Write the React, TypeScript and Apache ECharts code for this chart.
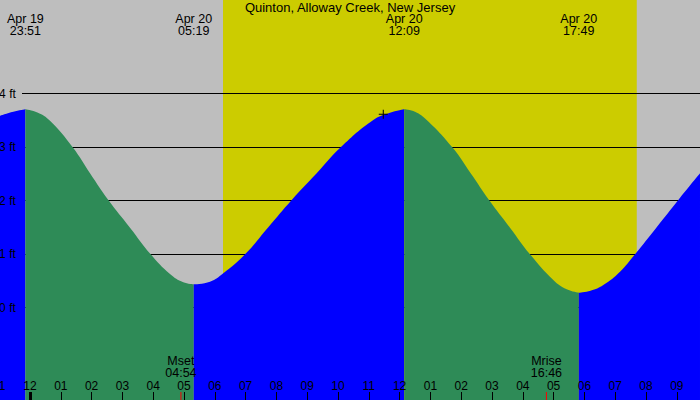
import React, { useEffect, useRef } from "react";
import * as echarts from "echarts";

// ---------- data ----------
const TITLE = "Quinton, Alloway Creek, New Jersey";

// tide extremes (high / low)
const extremeDates = ["Apr 19", "Apr 20", "Apr 20", "Apr 20"];
const extremeTimes = ["23:51", "05:19", "12:09", "17:49"];
const extremeLevels = [3.705, 0.434, 3.705, 0.277];

// tide curve: hours since Apr 20 00:00, level in ft
const tideHours = [
  -0.974, -0.542, -0.15, 0.24, 0.649, 1.386, 1.948, 2.542, 3.247, 3.919, 4.545, 4.977, 5.317,
  5.844, 6.276, 6.981, 7.737, 8.497, 9.308, 10.088, 11.146, 11.688, 12.15,
  12.5, 12.88, 13.711, 14.308, 14.903, 15.584, 16.234, 16.99, 17.425, 17.817,
  18.2, 18.614, 19.156, 19.643, 20.347, 21.049, 21.753,
];
const tideFeet = [
  3.585, 3.66, 3.705, 3.645, 3.49, 2.994, 2.508, 2.009, 1.492, 0.994, 0.626, 0.471, 0.434,
  0.482, 0.639, 0.994, 1.499, 2.009, 2.508, 2.994, 3.505, 3.641, 3.705,
  3.66, 3.505, 2.994, 2.508, 2.009, 1.492, 0.994, 0.514, 0.34, 0.277,
  0.314, 0.421, 0.669, 0.994, 1.499, 2.009, 2.508,
];

// moon events
const moonNames = ["Mset", "Mrise"];
const moonDates = ["Apr 20", "Apr 20"];
const moonTimes = ["04:54", "16:46"];

// daylight
const sunriseDate = "Apr 20";
const sunriseTime = "06:16";
const sunsetDate = "Apr 20";
const sunsetTime = "19:42";

// current position marker [hour, ft]
const nowMarker = [[11.47, 3.61]];

// ticks
const hourTicks = [-1, 0, 1, 2, 3, 4, 5, 6, 7, 8, 9, 10, 11, 12, 13, 14, 15, 16, 17, 18, 19, 20, 21, 22];
const dayStartTicks = [0];
const levelTicks = [0, 1, 2, 3, 4];

// ---------- style / layout ----------
const W = 700;
const H = 400;
const PX_PER_HOUR = 30.8;
const MIDNIGHT_PX = 30;
const X_MIN = -1.1;
const X_MAX = 22;
const ZERO_FT_PX = 307.5;
const PX_PER_FT = 53.5;
const Y_MAX = ZERO_FT_PX / PX_PER_FT;
const Y_MIN = -(H - ZERO_FT_PX) / PX_PER_FT;

const GRAY = "#BEBEBE";
const YELLOW = "#CCCC00";
const BLUE = "#0000FF";
const GREEN = "#2E8B57";
const FONT = "'Liberation Sans', Arial, Helvetica, sans-serif";

function toHour(date: string, time: string): number {
  const day = parseInt(date.split(" ")[1], 10) - 20;
  const [hh, mm] = time.split(":").map(Number);
  return day * 24 + hh + mm / 60;
}

function hourLabel(v: number): string {
  const hr = ((Math.round(v) % 12) + 12) % 12;
  return hr === 0 ? "12" : String(hr).padStart(2, "0");
}

export default function App() {
  const ref = useRef<HTMLDivElement>(null);

  useEffect(() => {
    if (!ref.current) return;
    const chart = echarts.init(ref.current, null, { renderer: "svg" });

    const extremeHours = extremeDates.map((d, i) => toHour(d, extremeTimes[i]));
    const moonHours = moonDates.map((d, i) => toHour(d, moonTimes[i]));
    const points = tideHours.map((h, i) => [h, tideFeet[i]]);
    const bounds = [tideHours[0], ...extremeHours, tideHours[tideHours.length - 1]];

    const tideSeries: any[] = [];
    for (let i = 0; i < bounds.length - 1; i++) {
      const a = bounds[i];
      const b = bounds[i + 1];
      const pts = points.filter(([h]) => h >= a - 0.01 && h <= b + 0.01);
      if (pts.length < 2) continue;
      const rising = pts[pts.length - 1][1] > pts[0][1];
      tideSeries.push({
        type: "line",
        data: pts,
        smooth: 0.45,
        symbol: "none",
        showSymbol: false,
        silent: true,
        z: 3,
        lineStyle: { width: 0, opacity: 0 },
        areaStyle: { color: rising ? BLUE : GREEN, opacity: 1, origin: "start" },
      });
    }

    const baseX = {
      type: "value",
      min: X_MIN,
      max: X_MAX,
      position: "bottom",
      z: 10,
      axisLine: { show: false, onZero: false },
      splitLine: { show: false },
    };

    const option: any = {
      animation: false,
      backgroundColor: GRAY,
      textStyle: { fontFamily: FONT },
      title: {
        text: TITLE,
        left: "center",
        top: 1,
        padding: 0,
        textStyle: { fontSize: 13, fontWeight: "normal", color: "#000", fontFamily: FONT },
      },
      grid: {
        left: MIDNIGHT_PX + X_MIN * PX_PER_HOUR,
        right: W - (MIDNIGHT_PX + X_MAX * PX_PER_HOUR),
        top: 0,
        bottom: 0,
        containLabel: false,
        outerBoundsMode: "none",
      },
      xAxis: [
        {
          ...baseX,
          axisTick: {
            show: true,
            inside: true,
            length: 8,
            customValues: hourTicks,
            lineStyle: { color: "#000", width: 1 },
          },
          axisLabel: {
            show: true,
            inside: true,
            margin: 8,
            customValues: hourTicks,
            formatter: hourLabel,
            color: "#000",
            fontSize: 12,
            fontFamily: FONT,
          },
        },
        {
          ...baseX,
          axisLabel: { show: false },
          axisTick: {
            show: true,
            inside: true,
            length: 8,
            customValues: dayStartTicks,
            lineStyle: { color: "#000", width: 3 },
          },
        },
      ],
      yAxis: {
        type: "value",
        min: Y_MIN,
        max: Y_MAX,
        z: 10,
        axisLine: { show: false, onZero: false },
        axisTick: { show: false },
        splitLine: { show: false },
        axisLabel: {
          inside: true,
          margin: 3,
          customValues: levelTicks,
          formatter: (v: number) => `${v} ft`,
          color: "#000",
          fontSize: 12,
          fontFamily: FONT,
        },
      },
      series: [
        {
          type: "line",
          data: [],
          silent: true,
          z: 1,
          markArea: {
            silent: true,
            z: 0,
            itemStyle: { color: YELLOW, opacity: 1 },
            data: [[{ xAxis: toHour(sunriseDate, sunriseTime) }, { xAxis: toHour(sunsetDate, sunsetTime) }]],
          },
          markLine: {
            silent: true,
            z: 1,
            symbol: ["none", "none"],
            label: { show: false },
            lineStyle: { color: "#000", width: 1, type: "solid", opacity: 1 },
            data: levelTicks.map((v) => [
              { x: 22, yAxis: v },
              { x: W, yAxis: v },
            ]),
          },
        },
        ...tideSeries,
        {
          type: "custom",
          coordinateSystem: "cartesian2d",
          data: extremeHours.map((h, i) => [h, extremeLevels[i]]),
          encode: { x: 0, y: 1 },
          silent: true,
          clip: false,
          z: 10,
          renderItem: (params: any, api: any) => {
            const i = params.dataIndex;
            const x = api.coord([api.value(0), api.value(1)])[0];
            return {
              type: "text",
              x,
              y: 25.3,
              style: {
                text: `${extremeDates[i]}\n${extremeTimes[i]}`,
                fill: "#000",
                fontSize: 12.5,
                fontFamily: FONT,
                align: "center",
                verticalAlign: "middle",
                lineHeight: 12,
              },
            };
          },
        },
        {
          type: "custom",
          coordinateSystem: "cartesian2d",
          data: moonHours.map((h) => [h, 0]),
          encode: { x: 0, y: 1 },
          silent: true,
          clip: false,
          z: 10,
          renderItem: (params: any, api: any) => {
            const i = params.dataIndex;
            const x = api.coord([api.value(0), 0])[0];
            return {
              type: "group",
              children: [
                {
                  type: "rect",
                  shape: { x: x - 0.5, y: H - 8, width: 1, height: 8 },
                  style: { fill: "#FF0000" },
                },
                {
                  type: "text",
                  x,
                  y: 367.4,
                  style: {
                    text: `${moonNames[i]}\n${moonTimes[i]}`,
                    fill: "#000",
                    fontSize: 12.5,
                    fontFamily: FONT,
                    align: "center",
                    verticalAlign: "middle",
                    lineHeight: 12,
                  },
                },
              ],
            };
          },
        },
        {
          type: "scatter",
          data: nowMarker,
          silent: true,
          z: 10,
          symbol: "path://M4,0h1v4h4v1h-4v4h-1v-4h-4v-1h4z",
          symbolSize: 9,
          itemStyle: { color: "#000", opacity: 1 },
        },
      ],
    };

    chart.setOption(option);
    return () => chart.dispose();
  }, []);

  return (
    <div
      ref={ref}
      style={{ position: "fixed", left: 0, top: 0, width: W, height: H }}
    />
  );
}
